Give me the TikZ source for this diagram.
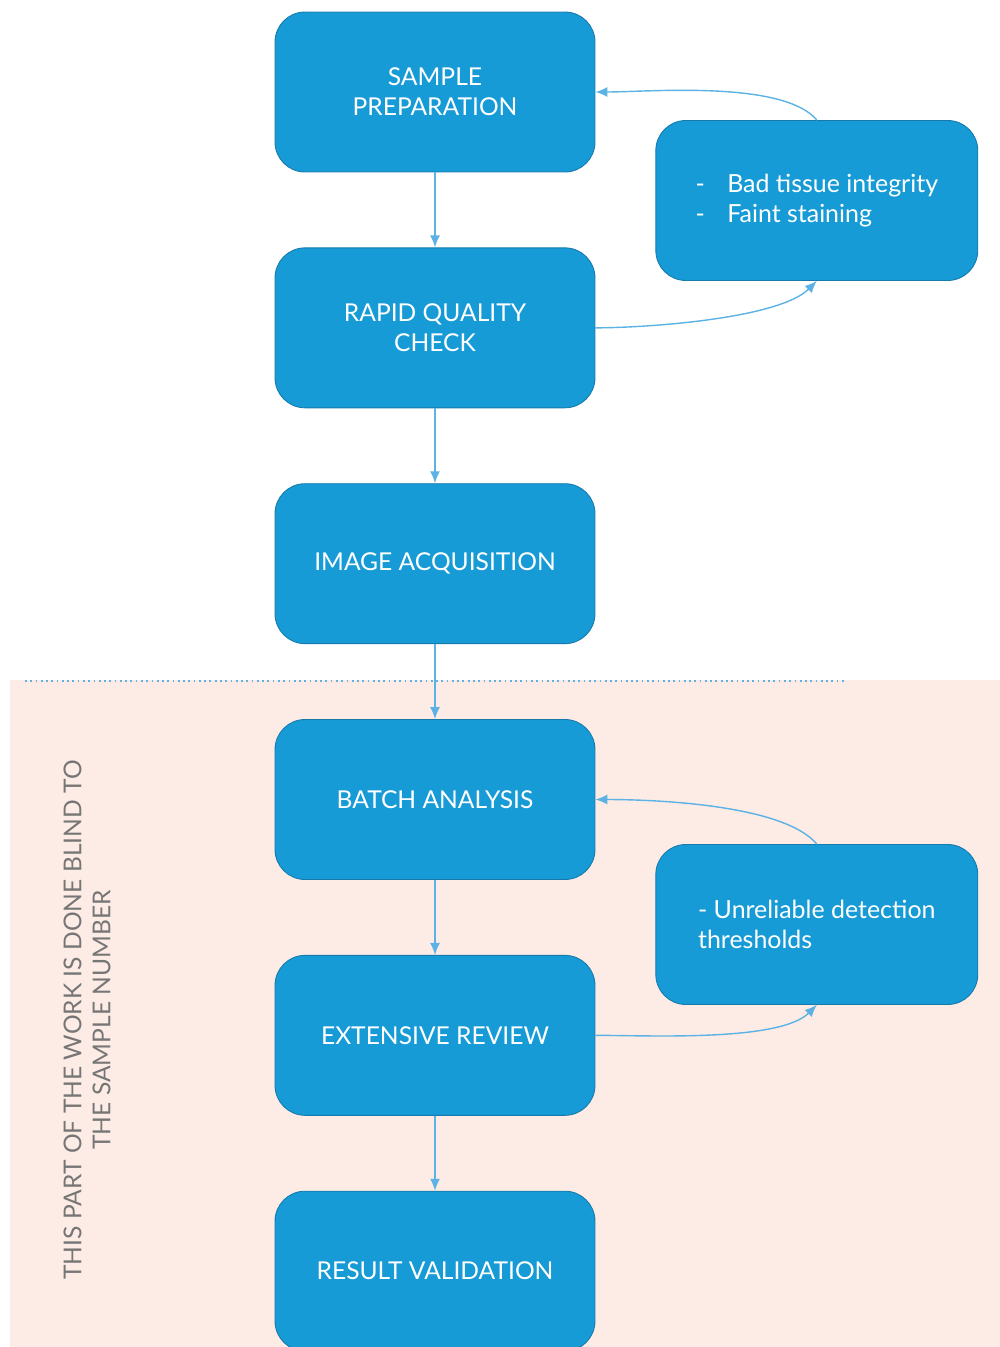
\documentclass[tikz,border=0pt]{standalone}
\usepackage{fontspec}
\setmainfont{Lato}
\usepackage{tikz}
\usetikzlibrary{
  arrows.meta, % for the arrow heads
  calc,
  positioning,
}
\definecolor{boxblue}{RGB}{23,155,214}
\definecolor{boxedge}{RGB}{22,122,172}
\definecolor{linkblue}{RGB}{92,178,228}
\definecolor{blindpink}{RGB}{253,236,229}
\definecolor{notegray}{RGB}{118,118,118}

\begin{document}
\begin{tikzpicture}[x=0.02cm, y=-0.02cm,
    stagebox/.style={draw=boxedge, line width=0.5pt, fill=boxblue, rounded corners=0.6cm,
      minimum width=6.4cm, minimum height=3.2cm, align=center, text=white,
      font=\fontsize{14}{17}\selectfont},
    notebox/.style={stagebox, minimum width=6.44cm, align=left,
      font=\fontsize{14.2}{17.5}\selectfont},
    flowarrow/.style={draw=linkblue, line width=0.8pt, -{Latex[length=2.4mm, width=2mm]}},
  ]
  \useasboundingbox (0,0) rectangle (1000,1347);
  \fill [blindpink] (10,680) rectangle (1000,1347);
  \draw [linkblue, line width=1pt, dotted] (25,681) -- (845,681);

  \node [stagebox] (prep) at (435,92) {SAMPLE\\PREPARATION};
  \node [stagebox, below = 1.5cm of prep] (check) {RAPID QUALITY\\CHECK};
  \node [stagebox, below = 1.5cm of check] (acq) {IMAGE ACQUISITION};
  \node [stagebox, below = 1.5cm of acq] (batch) {BATCH ANALYSIS};
  \node [stagebox, below = 1.5cm of batch] (review) {EXTENSIVE REVIEW};
  \node [stagebox, below = 1.5cm of review] (valid) {RESULT VALIDATION};

  \node [notebox, right = 1.2cm of $(prep.east)!0.46!(check.east)$] (qcnote)
    {-\hspace{0.9em}Bad tissue integrity\\-\hspace{0.9em}Faint staining};
  \node [notebox, right = 1.2cm of $(batch.east)!0.53!(review.east)$] (revnote)
    {- Unreliable detection\\thresholds};

  \node [rotate=90, align=center, text=notegray, font=\fontsize{14}{16.5}\selectfont] (blind)
    at (87,1020) {THIS PART OF THE WORK IS DONE BLIND TO\\THE SAMPLE NUMBER};

  \draw [flowarrow] (prep) -- (check);
  \draw [flowarrow] (check) -- (acq);
  \draw [flowarrow] (acq) -- (batch);
  \draw [flowarrow] (batch) -- (review);
  \draw [flowarrow] (review) -- (valid);

  \draw [flowarrow] (check.east) to[out=0, in=225, looseness=0.6] (qcnote.south);
  \draw [flowarrow] (qcnote.north) to[out=130, in=0, looseness=0.6] (prep.east);
  \draw [flowarrow] (review.east) to[out=0, in=225, looseness=0.6] (revnote.south);
  \draw [flowarrow] (revnote.north) to[out=130, in=0, looseness=0.6] (batch.east);
\end{tikzpicture}
\end{document}
